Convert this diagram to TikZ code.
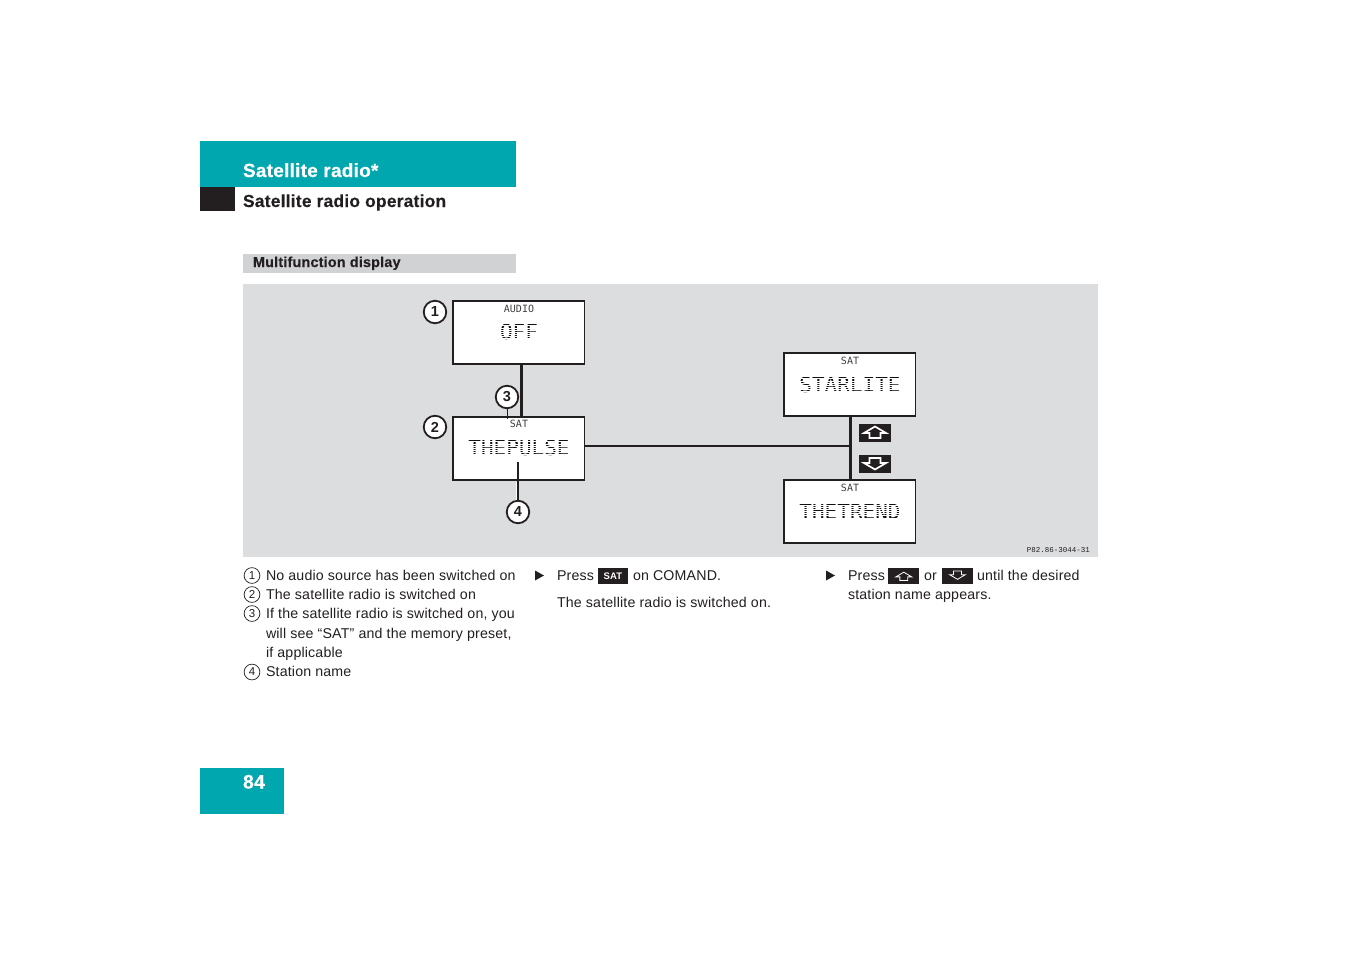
\documentclass[tikz,border=0pt]{standalone}
\usepackage{fontspec}
\setmainfont{Liberation Sans}[LetterSpace=1.2]
\newfontfamily\heavy{Liberation Sans}[LetterSpace=1.3,BoldFeatures={FakeBold=0.35}]
\newfontfamily\lcdfont{DejaVu Sans Mono}
\newfontfamily\partfont{Liberation Mono}
\definecolor{teal}{HTML}{00A7AE}
\definecolor{inkk}{HTML}{231F20}
\definecolor{panel}{HTML}{DCDDDF}
\definecolor{barg}{HTML}{D1D2D4}
\definecolor{lcd}{HTML}{111111}
\newcommand{\fsz}[1]{\fontsize{#1}{#1}\selectfont}
\tikzset{
  x=1pt,y=-1pt,
  txt/.style={anchor=base west,inner sep=0pt,outer sep=0pt,text=inkk,font=\fsz{14.2}},
  head/.style={anchor=base west,inner sep=0pt,outer sep=0pt,font=\heavy\fsz{17.4}\bfseries},
  display/.style={draw=inkk,fill=white,line width=1.7pt,minimum width=131.2pt,minimum height=63pt,inner sep=0pt,anchor=north west},
  lcdbig/.style={inner sep=0pt,text=lcd,font=\lcdfont\fsz{21}},
  lcdsmall/.style={inner sep=0pt,text=lcd!80,font=\lcdfont\fsz{10}},
  callout/.style={circle,draw=inkk,fill=white,line width=1.8pt,minimum size=22.5pt,inner sep=0pt,text=inkk,font=\fsz{14.5}\bfseries},
  legendnum/.style={circle,draw=inkk,line width=.7pt,minimum size=15.8pt,inner sep=0pt,text=inkk,font=\fsz{11.5}},
  key/.style={fill=inkk,inner sep=0pt,anchor=north west},
  conn/.style={draw=inkk,line width=2pt},
  thickconn/.style={draw=inkk,line width=3.2pt},
  bullet/.style={fill=inkk},
  icon/.style={draw=white,line join=miter},
  scan/.style={draw=white,line width=.5pt}
}
\newcommand{\upicon}[4]{% x, y, scale, line width
  \draw[icon,line width=#4pt] (#1-#3*11,#2+#3*0.5) -- (#1,#2-#3*6) -- (#1+#3*11,#2+#3*0.5) -- (#1+#3*5.5,#2+#3*0.5) -- (#1+#3*5.5,#2+#3*5.5) -- (#1-#3*5.5,#2+#3*5.5) -- (#1-#3*5.5,#2+#3*0.5) -- cycle;}
\newcommand{\downicon}[4]{%
  \draw[icon,line width=#4pt] (#1-#3*11,#2-#3*0.5) -- (#1,#2+#3*6) -- (#1+#3*11,#2-#3*0.5) -- (#1+#3*5.5,#2-#3*0.5) -- (#1+#3*5.5,#2-#3*5.5) -- (#1-#3*5.5,#2-#3*5.5) -- (#1-#3*5.5,#2-#3*0.5) -- cycle;}
\newcommand{\scanlines}[3]{% x1, number of columns, y centre : dot-matrix look of the display text
  \foreach \k in {-5,...,5} {\draw[scan] (#1,#3+\k*2.1) -- (#1+#2*2.1,#3+\k*2.1);}}
\begin{document}
\begin{tikzpicture}
\useasboundingbox (0,0) rectangle (1351,954);
\fill[white] (0,0) rectangle (1351,954);
% header
\fill[teal] (200,141) rectangle (516,187);
\fill[inkk] (200,187) rectangle (235,211);
\node[head,text=white,font=\heavy\fsz{19}\bfseries] (title) at (243,177) {Satellite radio*};
\node[head,text=inkk] (subtitle) at (243,207) {Satellite radio operation};
\fill[barg] (243,254) rectangle (516,273);
\node[txt,font=\heavy\fsz{14.4}\bfseries] (section) at (253,267) {Multifunction display};
% panel
\fill[panel] (243,284) rectangle (1098,557);
% displays
\node[display] (d1) at (452.4,300) {};
\node[display] (d2) at (452.4,416) {};
\node[display] (d3) at (783.3,352.2) {};
\node[display] (d4) at (783.3,479.4) {};
% connectors
\path[thickconn] (d1.south -| 521.3,0) -- (d2.north -| 521.3,0);
\coordinate (j1) at (850.5,445.8);
\path[conn] (d2.east |- j1) -- (j1);
\path[thickconn] (d3.south -| j1) -- (d4.north -| j1);
% display text
\node[lcdsmall] (t1a) at (519,308.5) {AUDIO};
\node[lcdbig] (t1b) at (519,332) {OFF};
\node[lcdsmall] (t2a) at (519,424) {SAT};
\node[lcdbig] (t2b) at (519,448) {THEPULSE};
\node[lcdsmall] (t3a) at (850,360.5) {SAT};
\node[lcdbig] (t3b) at (850,385) {STARLITE};
\node[lcdsmall] (t4a) at (850,487.5) {SAT};
\node[lcdbig] (t4b) at (850,511.5) {THETREND};
\scanlines{497}{21}{332}
\scanlines{466}{51}{448}
\scanlines{797}{51}{385}
\scanlines{797}{51}{511.5}
% callouts
\node[callout] (c1) at (435,312) {1};
\node[callout] (c2) at (435,427) {2};
\node[callout] (c3) at (507,397) {3};
\node[callout] (c4) at (518,512) {4};
\coordinate (l3) at (507,419);
\coordinate (l4) at (517.8,462);
\draw[white,line width=.9pt] (516.6,481.5) -- (516.6,500);
\draw[inkk,line width=1pt] (c3) -- (l3);
\draw[inkk,line width=1.5pt] (c4 |- l4) -- (c4);
% keys in panel
\node[key,minimum width=32pt,minimum height=18pt] (kup) at (859,424) {};
\node[key,minimum width=32pt,minimum height=18pt] (kdn) at (859,455) {};
\upicon{875}{432.5}{1}{1.7}
\downicon{875}{463.5}{1}{1.7}
% part no
\node[anchor=base east,inner sep=0pt,text=inkk,font=\partfont\fsz{7.5}] (partno) at (1090,552) {P82.86-3044-31};
% legend
\node[legendnum] (n1) at (252,575.5) {1};
\node[legendnum] (n2) at (252,594.5) {2};
\node[legendnum] (n3) at (252,613.5) {3};
\node[legendnum] (n4) at (252,672) {4};
\node[txt] (a1) at (266,580) {No audio source has been switched on};
\node[txt] (a2) at (266,599) {The satellite radio is switched on};
\node[txt] (a3) at (266,618) {If the satellite radio is switched on, you};
\node[txt] (a3b) at (266,638) {will see “SAT” and the memory preset,};
\node[txt] (a3c) at (266,657) {if applicable};
\node[txt] (a4) at (266,676) {Station name};
% column 2
\fill[bullet] (535,570.5) -- (544,575.5) -- (535,580.5) -- cycle;
\node[txt] (b1) at (557,580) {Press};
\node[key,minimum width=30pt,minimum height=16pt] (ksat) at (598,568) {};
\node[inner sep=0pt,text=white,font=\fsz{9.5}\bfseries] (ksatt) at (613,576.5) {SAT};
\node[txt] (b2) at (633,580) {on COMAND.};
\node[txt] (b3) at (557,607) {The satellite radio is switched on.};
% column 3
\fill[bullet] (826,570.5) -- (835,575.5) -- (826,580.5) -- cycle;
\node[txt] (e1) at (848,580) {Press};
\node[key,minimum width=31pt,minimum height=16pt] (kup2) at (888,568) {};
\node[txt] (e2) at (924,580) {or};
\node[key,minimum width=31pt,minimum height=16pt] (kdn2) at (942,568) {};
\node[txt] (e3) at (977,580) {until the desired};
\node[txt] (e4) at (848,599) {station name appears.};
\upicon{903.8}{576.5}{.72}{.8}
\downicon{957.5}{575}{.72}{.8}
% page number
\fill[teal] (200,768) rectangle (284,814);
\node[head,text=white,font=\heavy\fsz{19.5}\bfseries] (page) at (243,788.5) {84};
\end{tikzpicture}
\end{document}
